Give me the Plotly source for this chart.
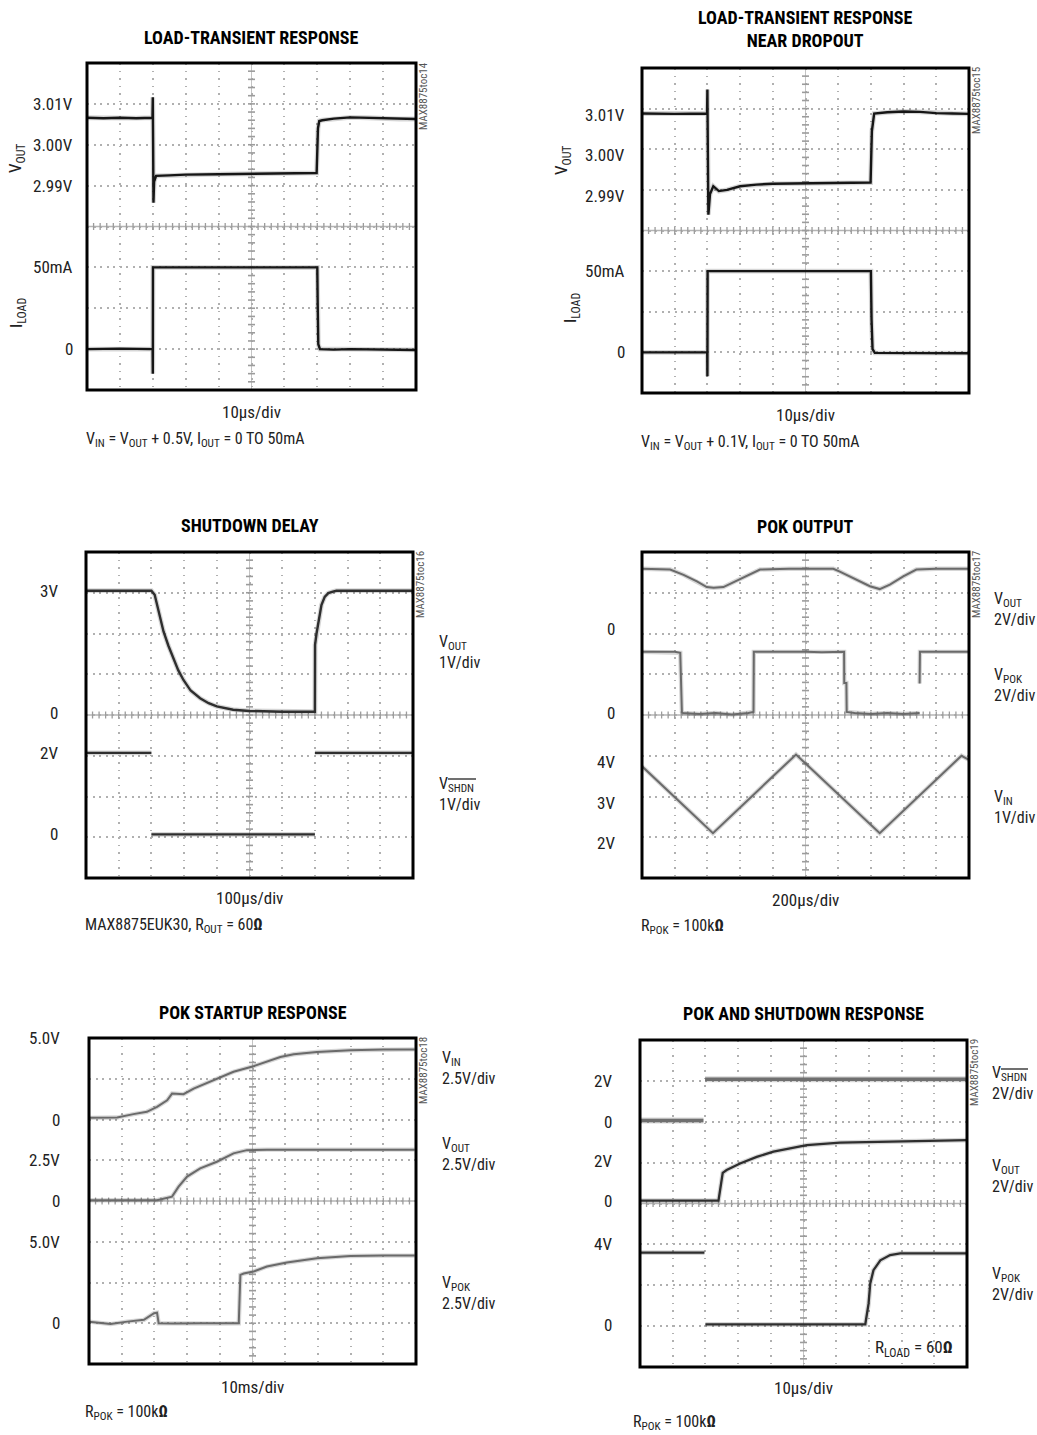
import plotly.graph_objects as go

W, H = 1037, 1435
NARROW = "Liberation Sans Narrow, Arial Narrow, Roboto Condensed, Liberation Sans, sans-serif"

# ---------------- LOAD-TRANSIENT RESPONSE (t in µs, V, mA) ----------------
lt_vout_t = [0, 5, 10, 15, 19.9, 20.0, 20.05, 20.1, 20.2, 20.4, 21, 25, 30, 40, 50, 60, 69.8,
             70.2, 70.6, 71.5, 75, 80, 85, 90, 95, 100]
lt_vout_v = [3.0066, 3.0065, 3.0066, 3.0065, 3.0066, 3.0116, 3.0050, 2.9995, 2.9858, 2.9910,
             2.9924, 2.9925, 2.9927, 2.9928, 2.9929, 2.9930, 2.9931, 3.0040, 3.0058, 3.0060,
             3.0064, 3.0067, 3.0066, 3.0064, 3.0063, 3.0063]
lt_iload_t = [0, 10, 19.95, 20.0, 20.02, 20.05, 21, 30, 40, 50, 60, 70.0, 70.1, 70.3, 70.8,
              75, 80, 90, 100]
lt_iload_i = [0, 0.3, 0, -15, 0, 50, 50, 49.8, 50, 49.8, 49.8, 50, 30, 3, 0, -0.3, 0, -0.3, -0.5]

# ---------------- LOAD-TRANSIENT RESPONSE NEAR DROPOUT ----------------
nd_vout_t = [0, 10, 19.9, 20.0, 20.1, 20.3, 20.8, 21.8, 23.5, 26, 30, 35, 40, 50, 60, 69.9,
             70.3, 71.0, 75, 80, 85, 90, 95, 100]
nd_vout_v = [3.0103, 3.0102, 3.0103, 3.0162, 3.0040, 2.9854, 2.9905, 2.9924, 2.9912, 2.9915,
             2.9924, 2.9928, 2.9930, 2.9931, 2.9932, 2.9933, 3.0060, 3.0103, 3.0106, 3.0108,
             3.0107, 3.0104, 3.0103, 3.0102]
nd_iload_t = [0, 10, 19.95, 20.0, 20.03, 20.06, 22, 30, 40, 50, 60, 70.0, 70.2, 70.5, 71.2,
              75, 80, 90, 100]
nd_iload_i = [0, 0.2, 0, -14.7, 0, 50, 50, 50, 50.2, 50, 49.8, 50, 20, 2, -0.3, -0.3, -0.6,
              -0.5, -0.5]

# ---------------- SHUTDOWN DELAY (t in µs, V) ----------------
sd_vout_t = [0, 100, 200, 210, 217, 227, 237, 252, 267, 282, 298, 320, 349, 375, 400, 450,
             500, 600, 700, 700.5, 705, 710, 720, 730, 741, 755, 766, 800, 900, 1000]
sd_vout_v = [3.0, 3.0, 3.0, 2.9, 2.65, 2.35, 2.0, 1.65, 1.34, 1.05, 0.81, 0.55, 0.36, 0.24,
             0.16, 0.08, 0.05, 0.03, 0.03, 1.67, 1.95, 2.16, 2.65, 2.85, 2.94, 2.98, 3.0, 3.0,
             3.0, 3.0]
sd_shdn_t = [0, 100, 200, None, 200, 450, 700, None, 700, 850, 1000]
sd_shdn_v = [2, 2, 2, None, 0, 0, 0, None, 2, 2, 2]

# ---------------- POK OUTPUT (t in µs, V) ----------------
pk_vout_t = [0, 172, 254, 336, 396, 438, 498, 580, 662, 722, 900, 1170, 1210, 1292, 1394,
             1454, 1516, 1598, 1678, 1800, 2000]
pk_vout_v = [2.98, 2.94, 2.68, 2.36, 2.08, 2.04, 2.08, 2.40, 2.74, 2.94, 2.98, 2.98, 2.84,
             2.52, 2.12, 1.98, 2.20, 2.60, 2.94, 2.98, 2.98]
pk_pok_t = [0, 100, 200, 234, 244, 250, 350, 450, 550, 650, 682, 684, 800, 900, 1000, 1100,
            1200, 1236, 1237, 1250, 1252, 1300, 1400, 1500, 1600, 1698, None, 1698, 1700,
            1800, 1900, 2000]
pk_pok_v = [3.0, 3.0, 3.0, 2.95, 0.05, 0.0, -0.05, 0.0, -0.08, 0.0, 0.05, 3.0, 3.0, 3.02,
            3.0, 2.98, 3.0, 3.0, 1.47, 1.47, 0.05, 0.0, -0.05, 0.0, -0.05, 0.0, None, 1.45,
            3.0, 3.0, 3.0, 3.0]
pk_vin_t = [0, 434, 942, 1454, 1954, 2000]
pk_vin_v = [3.89, 2.25, 4.18, 2.25, 4.15, 4.05]

# ---------------- POK STARTUP RESPONSE (t in ms, V) ----------------
ps_vin_t = [0, 8.6, 13.6, 17.7, 20.8, 23.9, 25.4, 28.9, 32.0, 36.1, 40.2, 44.2, 50.3, 54.4,
            58.5, 62.6, 69.7, 79.9, 90.1, 99.6]
ps_vin_v = [0.1, 0.12, 0.33, 0.47, 0.78, 1.18, 1.59, 1.55, 1.9, 2.25, 2.58, 2.93, 3.27, 3.53,
            3.83, 4.0, 4.14, 4.25, 4.3, 4.3]
ps_vout_t = [0, 20.8, 25.4, 27.4, 30.0, 34.0, 39.1, 44.2, 48.3, 54.4, 70, 99.6]
ps_vout_v = [0.05, 0.05, 0.27, 0.88, 1.5, 2.0, 2.41, 2.92, 3.12, 3.15, 3.15, 3.15]
ps_pok_t = [0, 6.6, 11.7, 16.8, 19.9, 20.8, 21.3, 25.9, 34.0, 40, 45.8, 46.0, 46.3, 47.3,
            50.3, 54.4, 60.5, 69.7, 79.9, 90, 99.6]
ps_pok_v = [0.1, -0.05, 0.1, 0.21, 0.62, 0.65, 0.0, -0.02, 0.0, -0.02, 0.0, 1.23, 2.97, 3.05,
            3.17, 3.48, 3.72, 3.99, 4.13, 4.15, 4.15]

# ---------------- POK AND SHUTDOWN RESPONSE (t in µs, V) ----------------
sr_shdn_t = [0, 10, 19.4, None, 19.9, 30, 40, 50, 60, 70, 80, 90, 100]
sr_shdn_v = [0.06, 0.06, 0.06, None, 2.08, 2.08, 2.08, 2.06, 2.08, 2.08, 2.08, 2.08, 2.08]
sr_vout_t = [0, 10, 20, 24.0, 24.5, 25.3, 26.5, 30.6, 35.7, 40.8, 45.9, 51.0, 61.2, 71.4,
             81.6, 100]
sr_vout_v = [0.04, 0.04, 0.04, 0.04, 0.56, 1.4, 1.54, 1.86, 2.18, 2.44, 2.6, 2.76, 2.88, 2.92,
             2.96, 3.0]
sr_pok_t = [0, 10, 19.7, None, 20.0, 30, 40, 50, 60, 68.9, 69.9, 70.4, 71.4, 73.5, 76.5,
            79.6, 90, 100]
sr_pok_v = [3.56, 3.56, 3.56, None, 0.05, 0.05, 0.05, 0.05, 0.05, 0.05, 1.06, 2.04, 2.7,
            3.18, 3.44, 3.52, 3.52, 3.52]

# Channel placement on the 8-division screen: value `ref` sits at division `at`,
# with `per` units per division.
CH = {
    "lt_vout": dict(ref=3.00, at=6.0, per=0.01),
    "lt_iload": dict(ref=0, at=1.0, per=25),
    "nd_vout": dict(ref=3.01, at=6.85, per=0.01),
    "nd_iload": dict(ref=0, at=1.0, per=25),
    "sd_vout": dict(ref=0, at=4.05, per=1),
    "sd_shdn": dict(ref=0, at=1.07, per=1),
    "pk_vout": dict(ref=0, at=6.1, per=2),
    "pk_pok": dict(ref=0, at=4.05, per=2),
    "pk_vin": dict(ref=4, at=2.85, per=1),
    "ps_vin": dict(ref=0, at=6.0, per=2.5),
    "ps_vout": dict(ref=0, at=4.0, per=2.5),
    "ps_pok": dict(ref=0, at=1.0, per=2.5),
    "sr_shdn": dict(ref=0, at=6.0, per=2),
    "sr_vout": dict(ref=0, at=4.05, per=2),
    "sr_pok": dict(ref=0, at=1.02, per=2),
}


def to_div(vals, ch):
    c = CH[ch]
    return [None if v is None else c["at"] + (v - c["ref"]) / c["per"] for v in vals]


DARK = "#161616"
MID = "#2e2e2e"
GREY = "#6a6a6a"
TXT = "#222"

# panel: screen box in pixels, full time span, texts
panels = [
    dict(box=(87, 63, 416, 390), span=100, title="LOAD-TRANSIENT RESPONSE", title_y=38,
         tdiv="10µs/div", tdiv_y=412,
         note="V<sub>IN</sub> = V<sub>OUT</sub> + 0.5V, I<sub>OUT</sub> = 0 TO 50mA",
         note_xy=(84, 439), tag="MAX8875toc14", lab_x=75,
         traces=[(lt_vout_t, lt_vout_v, "lt_vout", DARK, 2.4),
                 (lt_iload_t, lt_iload_i, "lt_iload", DARK, 2.4)],
         ticks=[("3.01V", 3.01, "lt_vout"), ("3.00V", 3.00, "lt_vout"),
                ("2.99V", 2.99, "lt_vout"), ("50mA", 50, "lt_iload"), ("0", 0, "lt_iload")],
         side=[], rot=[("V<sub>OUT</sub>", 17, 158), ("I<sub>LOAD</sub>", 18, 313)]),
    dict(box=(642, 68, 969, 393), span=100,
         title="LOAD-TRANSIENT RESPONSE<br>NEAR DROPOUT", title_y=29,
         tdiv="10µs/div", tdiv_y=415,
         note="V<sub>IN</sub> = V<sub>OUT</sub> + 0.1V, I<sub>OUT</sub> = 0 TO 50mA",
         note_xy=(639, 443), tag="MAX8875toc15", lab_x=627,
         traces=[(nd_vout_t, nd_vout_v, "nd_vout", DARK, 2.4),
                 (nd_iload_t, nd_iload_i, "nd_iload", DARK, 2.4)],
         ticks=[("3.01V", 3.01, "nd_vout"), ("3.00V", 3.00, "nd_vout"),
                ("2.99V", 2.99, "nd_vout"), ("50mA", 50, "nd_iload"), ("0", 0, "nd_iload")],
         side=[], rot=[("V<sub>OUT</sub>", 563, 160), ("I<sub>LOAD</sub>", 572, 308)]),
    dict(box=(86, 552, 413, 878), span=1000, title="SHUTDOWN DELAY", title_y=525,
         tdiv="100µs/div", tdiv_y=898,
         note="MAX8875EUK30, R<sub>OUT</sub> = 60<b>Ω</b>", note_xy=(83, 925),
         tag="MAX8875toc16", lab_x=60,
         traces=[(sd_vout_t, sd_vout_v, "sd_vout", MID, 2.4),
                 (sd_shdn_t, sd_shdn_v, "sd_shdn", MID, 2.4)],
         ticks=[("3V", 3, "sd_vout"), ("0", 0, "sd_vout"), ("2V", 2, "sd_shdn"),
                ("0", 0, "sd_shdn")],
         side=[("V<sub>OUT</sub><br>1V/div", 437, 652),
               ("V<sub>SHDN</sub><br>1V/div", 437, 794)], rot=[]),
    dict(box=(642, 552, 969, 878), span=2000, title="POK OUTPUT", title_y=526,
         tdiv="200µs/div", tdiv_y=900,
         note="R<sub>POK</sub> = 100k<b>Ω</b>", note_xy=(639, 927),
         tag="MAX8875toc17", lab_x=617,
         traces=[(pk_vout_t, pk_vout_v, "pk_vout", GREY, 2.0),
                 (pk_pok_t, pk_pok_v, "pk_pok", GREY, 2.0),
                 (pk_vin_t, pk_vin_v, "pk_vin", GREY, 2.0)],
         ticks=[("0", 0, "pk_vout"), ("0", 0, "pk_pok"), ("4V", 4, "pk_vin"),
                ("3V", 3, "pk_vin"), ("2V", 2, "pk_vin")],
         side=[("V<sub>OUT</sub><br>2V/div", 992, 609),
               ("V<sub>POK</sub><br>2V/div", 992, 685),
               ("V<sub>IN</sub><br>1V/div", 992, 807)], rot=[]),
    dict(box=(89, 1038, 416, 1364), span=100, title="POK STARTUP RESPONSE", title_y=1012,
         tdiv="10ms/div", tdiv_y=1387,
         note="R<sub>POK</sub> = 100k<b>Ω</b>", note_xy=(83, 1412),
         tag="MAX8875toc18", lab_x=62,
         traces=[(ps_vin_t, ps_vin_v, "ps_vin", GREY, 2.0),
                 (ps_vout_t, ps_vout_v, "ps_vout", GREY, 2.0),
                 (ps_pok_t, ps_pok_v, "ps_pok", GREY, 2.0)],
         ticks=[("5.0V", 5, "ps_vin"), ("0", 0, "ps_vin"), ("2.5V", 2.5, "ps_vout"),
                ("0", 0, "ps_vout"), ("5.0V", 5, "ps_pok"), ("0", 0, "ps_pok")],
         side=[("V<sub>IN</sub><br>2.5V/div", 440, 1068),
               ("V<sub>OUT</sub><br>2.5V/div", 440, 1154),
               ("V<sub>POK</sub><br>2.5V/div", 440, 1293)], rot=[]),
    dict(box=(640, 1040, 967, 1367), span=100, title="POK AND SHUTDOWN RESPONSE",
         title_y=1013, tdiv="10µs/div", tdiv_y=1388,
         note="R<sub>POK</sub> = 100k<b>Ω</b>", note_xy=(631, 1422),
         tag="MAX8875toc19", lab_x=614,
         traces=[(sr_shdn_t, sr_shdn_v, "sr_shdn", "#6f6f6f", 3.6),
                 (sr_vout_t, sr_vout_v, "sr_vout", MID, 2.3),
                 (sr_pok_t, sr_pok_v, "sr_pok", MID, 2.3)],
         ticks=[("2V", 2, "sr_shdn"), ("0", 0, "sr_shdn"), ("2V", 2, "sr_vout"),
                ("0", 0, "sr_vout"), ("4V", 4, "sr_pok"), ("0", 0, "sr_pok")],
         side=[("V<sub>SHDN</sub><br>2V/div", 990, 1083),
               ("V<sub>OUT</sub><br>2V/div", 990, 1176),
               ("V<sub>POK</sub><br>2V/div", 990, 1284)], rot=[]),
]

# overbars for SHDN in the side labels (pixel coordinates)
overbars = [(448, 476, 779), (1001, 1028, 1069)]


def px(x):
    return x / W


def py(y):
    return 1 - y / H


def note(text, x, y, size=17, xanchor="center", **kw):
    return dict(text=text, x=x, y=y, xref=kw.pop("xref", "paper"), yref=kw.pop("yref", "paper"),
                xanchor=xanchor, yanchor="middle", showarrow=False,
                font=dict(size=size, family=NARROW, color=kw.pop("color", TXT)), **kw)


fig = go.Figure()
layout = {}
shapes = []
annotations = []
GRID = "#b0b0b0"
CENTRE = "#9c9c9c"

for i, p in enumerate(panels, start=1):
    sx = "" if i == 1 else str(i)
    xa, ya = "x" + sx, "y" + sx
    x0, y0, x1, y1 = p["box"]
    span = p["span"]
    layout["xaxis" + sx] = dict(domain=[px(x0), px(x1)], range=[0, span], dtick=span / 10,
                                showgrid=True, gridcolor=GRID, gridwidth=1.5,
                                griddash="1.5px,6px", zeroline=False, showticklabels=False,
                                ticks="", showline=False, anchor=ya, fixedrange=True)
    layout["yaxis" + sx] = dict(domain=[py(y1), py(y0)], range=[0, 8], dtick=1,
                                showgrid=True, gridcolor=GRID, gridwidth=1.5,
                                griddash="2px,4.5px", zeroline=False, showticklabels=False,
                                ticks="", showline=False, anchor=xa, fixedrange=True)

    # centre graticule lines with minor ticks
    shapes.append(dict(type="line", xref=xa, yref=ya, x0=span / 2, x1=span / 2, y0=0, y1=8,
                       line=dict(color="#c4c4c4", width=1), layer="below"))
    shapes.append(dict(type="line", xref=xa, yref=ya, x0=0, x1=span, y0=4, y1=4,
                       line=dict(color="#b4b4b4", width=1.3), layer="below"))
    fig.add_trace(go.Scatter(x=[span / 2] * 39, y=[0.2 * k for k in range(1, 40)],
                             mode="markers", xaxis=xa, yaxis=ya, hoverinfo="skip",
                             marker=dict(symbol="line-ew", size=5,
                                         line=dict(width=1.6, color=CENTRE))))
    fig.add_trace(go.Scatter(x=[span * 0.02 * k for k in range(1, 50)], y=[4] * 49,
                             mode="markers", xaxis=xa, yaxis=ya, hoverinfo="skip",
                             marker=dict(symbol="line-ns", size=5,
                                         line=dict(width=1.3, color=CENTRE))))

    # signal traces (soft halo under a solid core)
    for t, v, ch, col, w in p["traces"]:
        d = to_div(v, ch)
        fig.add_trace(go.Scatter(x=t, y=d, mode="lines", xaxis=xa, yaxis=ya,
                                 hoverinfo="skip", connectgaps=False,
                                 line=dict(color="rgba(0,0,0,0.16)", width=w + 2.4)))
        fig.add_trace(go.Scatter(x=t, y=d, mode="lines", xaxis=xa, yaxis=ya,
                                 hoverinfo="skip", connectgaps=False,
                                 line=dict(color=col, width=w)))

    # frame
    shapes.append(dict(type="rect", xref=xa + " domain", yref=ya + " domain", x0=0, x1=1,
                       y0=0, y1=1, line=dict(color="black", width=3)))

    cx = (x0 + x1) / 2
    annotations.append(note("<b>" + p["title"] + "</b>", px(cx), py(p["title_y"]), size=18,
                            color="black"))
    annotations.append(note(p["tdiv"], px(cx), py(p["tdiv_y"])))
    annotations.append(note(p["note"], px(p["note_xy"][0]), py(p["note_xy"][1]), size=16,
                            xanchor="left"))
    annotations.append(note(p["tag"], px(x1 + 7), py(y0 + 33), size=11, textangle=-90,
                            color="#555"))
    for txt, val, ch in p["ticks"]:
        annotations.append(note(txt, px(p["lab_x"]), to_div([val], ch)[0], xanchor="right",
                                yref=ya))
    for txt, lx, ly in p["side"]:
        annotations.append(note(txt, px(lx), py(ly), size=16, xanchor="left", align="left"))
    for txt, lx, ly in p["rot"]:
        annotations.append(note(txt, px(lx), py(ly), textangle=-90))

annotations.append(note("R<sub>LOAD</sub> = 60<b>Ω</b>", px(955), py(1348), xanchor="right"))

for xa0, xa1, yb in overbars:
    shapes.append(dict(type="line", xref="paper", yref="paper", x0=px(xa0), x1=px(xa1),
                       y0=py(yb), y1=py(yb), line=dict(color=TXT, width=1.3)))

fig.update_layout(width=W, height=H, margin=dict(l=0, r=0, t=0, b=0),
                  paper_bgcolor="white", plot_bgcolor="white", showlegend=False,
                  shapes=shapes, annotations=annotations, **layout)

fig.write_html("out.html", config={"displayModeBar": False})
